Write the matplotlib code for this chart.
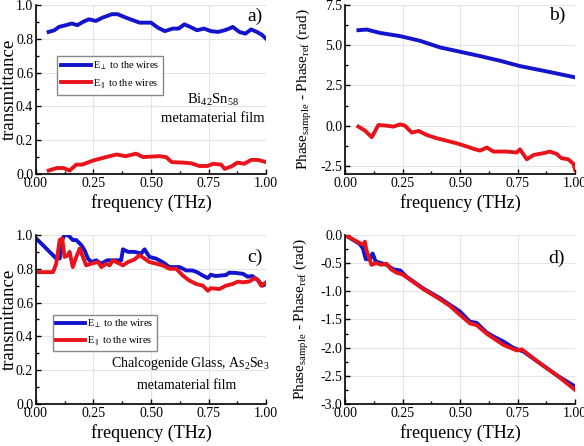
import matplotlib.pyplot as plt
from matplotlib.ticker import AutoMinorLocator

plt.rcParams['font.family'] = ['Liberation Serif', 'DejaVu Serif']
plt.rcParams['mathtext.fontset'] = 'custom'
plt.rcParams['mathtext.rm'] = 'Liberation Serif'
plt.rcParams['mathtext.it'] = 'Liberation Serif'

BLUE = '#1414cc'
RED = '#e8141c'

# a) Bi42Sn58 transmittance
fa_perp = [0.055, 0.08, 0.10, 0.13, 0.155, 0.18, 0.205, 0.23, 0.26, 0.29, 0.33, 0.355, 0.39, 0.42, 0.45,
           0.50, 0.53, 0.56, 0.595, 0.62, 0.645, 0.67, 0.70, 0.73, 0.76, 0.79, 0.82, 0.84, 0.855, 0.884,
           0.91, 0.935, 0.96, 0.98, 1.0]
ta_perp = [0.84, 0.85, 0.87, 0.88, 0.89, 0.88, 0.90, 0.915, 0.905, 0.925, 0.945, 0.945, 0.925, 0.91, 0.895,
           0.895, 0.865, 0.845, 0.86, 0.86, 0.885, 0.87, 0.85, 0.86, 0.845, 0.84, 0.85, 0.86, 0.87, 0.84,
           0.83, 0.855, 0.84, 0.825, 0.80]
fa_par = [0.055, 0.09, 0.12, 0.146, 0.175, 0.20, 0.25, 0.305, 0.35, 0.39, 0.435, 0.465, 0.535, 0.565,
          0.59, 0.64, 0.675, 0.71, 0.745, 0.77, 0.805, 0.82, 0.85, 0.875, 0.905, 0.935, 0.965, 1.0]
ta_par = [0.02, 0.035, 0.035, 0.02, 0.055, 0.055, 0.08, 0.10, 0.115, 0.105, 0.12, 0.10, 0.105, 0.10,
          0.07, 0.067, 0.063, 0.047, 0.047, 0.06, 0.055, 0.03, 0.045, 0.067, 0.06, 0.083, 0.083, 0.07]

# b) Bi42Sn58 phase
fb_perp = [0.058, 0.094, 0.152, 0.24, 0.326, 0.413, 0.50, 0.587, 0.674, 0.76, 0.848, 0.92, 1.0]
pb_perp = [5.93, 5.97, 5.76, 5.56, 5.27, 4.86, 4.59, 4.32, 4.03, 3.70, 3.45, 3.24, 3.0]
fb_par = [0.058, 0.087, 0.116, 0.145, 0.18, 0.21, 0.24, 0.26, 0.29, 0.32, 0.355, 0.40, 0.44, 0.486,
          0.53, 0.565, 0.587, 0.616, 0.645, 0.703, 0.746, 0.76, 0.79, 0.82, 0.862, 0.89, 0.92, 0.94,
          0.97, 0.993, 1.0]
pb_par = [-0.06, -0.31, -0.72, 0.04, 0.0, -0.06, 0.08, 0.0, -0.43, -0.33, -0.58, -0.79, -0.93, -1.1,
          -1.3, -1.47, -1.55, -1.36, -1.61, -1.61, -1.67, -1.47, -2.09, -1.82, -1.71, -1.61, -1.76, -2.02,
          -2.09, -2.38, -2.75]

# c) Chalcogenide glass transmittance
fc_perp = [0.0, 0.03, 0.074, 0.088, 0.095, 0.103, 0.114, 0.124, 0.139, 0.146, 0.16, 0.175, 0.197, 0.211,
           0.226, 0.24, 0.262, 0.284, 0.31, 0.342, 0.37, 0.378, 0.40, 0.428, 0.457, 0.472, 0.493, 0.522,
           0.55, 0.58, 0.624, 0.653, 0.68, 0.70, 0.725, 0.747, 0.76, 0.78, 0.826, 0.84, 0.87, 0.90, 0.92,
           0.94, 0.964, 0.985, 1.0]
tc_perp = [0.98, 0.94, 0.88, 0.86, 0.88, 0.86, 0.97, 1.0, 1.0, 0.99, 0.97, 0.97, 0.94, 0.91,
           0.86, 0.84, 0.85, 0.83, 0.85, 0.85, 0.85, 0.915, 0.90, 0.90, 0.89, 0.915, 0.87, 0.86,
           0.84, 0.81, 0.81, 0.79, 0.79, 0.78, 0.76, 0.745, 0.765, 0.757, 0.763, 0.777, 0.775, 0.77, 0.753,
           0.757, 0.733, 0.70, 0.71]
fc_par = [0.0, 0.074, 0.088, 0.103, 0.114, 0.124, 0.139, 0.146, 0.16, 0.175, 0.19, 0.204, 0.218, 0.24,
          0.27, 0.284, 0.305, 0.32, 0.334, 0.356, 0.378, 0.40, 0.428, 0.45, 0.472, 0.493, 0.522, 0.55,
          0.58, 0.61, 0.638, 0.667, 0.696, 0.725, 0.747, 0.76, 0.797, 0.826, 0.855, 0.877, 0.90, 0.928,
          0.95, 0.964, 0.978, 1.0]
tc_par = [0.78, 0.78, 0.83, 0.97, 0.98, 0.87, 0.88, 0.90, 0.81, 0.87, 0.92, 0.87, 0.82, 0.83,
          0.84, 0.81, 0.83, 0.82, 0.85, 0.835, 0.82, 0.84, 0.855, 0.88, 0.86, 0.84, 0.83, 0.82,
          0.80, 0.80, 0.76, 0.73, 0.71, 0.70, 0.67, 0.685, 0.68, 0.70, 0.71, 0.724, 0.72, 0.725,
          0.745, 0.735, 0.70, 0.72]

# d) Chalcogenide glass phase
fd_perp = [0.0, 0.064, 0.078, 0.09, 0.107, 0.12, 0.133, 0.158, 0.18, 0.21, 0.24, 0.267, 0.34, 0.412,
           0.456, 0.50, 0.543, 0.572, 0.615, 0.644, 0.688, 0.73, 0.775, 0.848, 0.92, 1.0]
pd_perp = [0.0, -0.16, -0.24, -0.43, -0.43, -0.33, -0.47, -0.50, -0.53, -0.61, -0.63, -0.74, -0.95, -1.12,
           -1.24, -1.36, -1.54, -1.56, -1.73, -1.80, -1.89, -2.0, -2.07, -2.28, -2.49, -2.69]
fd_par = [0.0, 0.071, 0.081, 0.086, 0.093, 0.115, 0.136, 0.158, 0.18, 0.20, 0.224, 0.25, 0.34, 0.412,
          0.456, 0.50, 0.543, 0.572, 0.615, 0.644, 0.688, 0.746, 0.768, 0.79, 0.848, 0.92, 1.0]
pd_par = [0.0, -0.16, -0.17, -0.12, -0.27, -0.53, -0.50, -0.53, -0.51, -0.61, -0.67, -0.70, -0.96, -1.14,
          -1.26, -1.42, -1.57, -1.60, -1.75, -1.83, -1.95, -2.05, -2.03, -2.1, -2.28, -2.49, -2.75]

label_perp = r'E$_{\perp}$ to the wires'
label_par = r'E$_{\parallel}$ to the wires'
phase_label = r'Phase$_{\mathrm{sample}}$ - Phase$_{\mathrm{ref}}$ (rad)'

fig = plt.figure(figsize=(5.84, 4.46), dpi=100)
ax_a = fig.add_axes([0.0616, 0.610, 0.394, 0.379])
ax_b = fig.add_axes([0.5908, 0.610, 0.394, 0.379])
ax_c = fig.add_axes([0.0616, 0.0942, 0.394, 0.379])
ax_d = fig.add_axes([0.5908, 0.0942, 0.394, 0.379])


def style(ax, ylim, yticks, letter, lx, ly):
    ax.set_xlim(0, 1)
    ax.set_ylim(*ylim)
    ax.set_xticks([0, 0.25, 0.5, 0.75, 1.0])
    ax.set_xticklabels(['0.00', '0.25', '0.50', '0.75', '1.00'])
    ax.set_yticks(yticks)
    ax.xaxis.set_minor_locator(AutoMinorLocator(2))
    ax.yaxis.set_minor_locator(AutoMinorLocator(2))
    ax.tick_params(which='both', direction='in', labelsize=10, width=1.0)
    ax.tick_params(which='major', length=3.5, pad=2)
    ax.tick_params(which='minor', length=2)
    ax.spines['top'].set_visible(False)
    ax.spines['right'].set_visible(False)
    ax.spines['left'].set_linewidth(1.2)
    ax.spines['bottom'].set_linewidth(1.2)
    ax.grid(True, color='#e4e4e4', linewidth=0.8)
    ax.set_axisbelow(True)
    ax.set_xlabel('frequency (THz)', fontsize=13, labelpad=3)
    ax.text(lx, ly, letter, transform=ax.transAxes, ha='right', va='center', fontsize=14)


ax_a.plot(fa_perp, ta_perp, color=BLUE, lw=2.8, label=label_perp)
ax_a.plot(fa_par, ta_par, color=RED, lw=2.8, label=label_par)
style(ax_a, (0, 1.0), [0, 0.2, 0.4, 0.6, 0.8, 1.0], 'a)', 0.987, 0.935)
ax_a.set_yticklabels(['0.0', '0.2', '0.4', '0.6', '0.8', '1.0'])
ax_a.set_ylabel('transmittance', fontsize=13.5)
ax_a.yaxis.set_label_coords(-0.08, 0.5)
ax_a.legend(loc='upper left', bbox_to_anchor=(0.07, 0.73), fontsize=7.5, fancybox=False,
            edgecolor='#888888', framealpha=1, handlelength=2.8, borderpad=0.4, labelspacing=0.45,
            handletextpad=0.2)
ax_a.text(0.77, 0.44, r'Bi$_{42}$Sn$_{58}$', transform=ax_a.transAxes, ha='center', va='center',
          fontsize=10.5)
ax_a.text(0.77, 0.33, 'metamaterial film', transform=ax_a.transAxes, ha='center', va='center',
          fontsize=10.5)

ax_b.plot(fb_perp, pb_perp, color=BLUE, lw=2.8)
ax_b.plot(fb_par, pb_par, color=RED, lw=2.8)
style(ax_b, (-3.0, 7.5), [-2.5, 0, 2.5, 5.0, 7.5], 'b)', 0.957, 0.94)
ax_b.set_yticklabels(['-2.5', '0.0', '2.5', '5.0', '7.5'])
ax_b.set_ylabel(phase_label, fontsize=11)
ax_b.yaxis.set_label_coords(-0.135, 0.5)

ax_c.plot(fc_perp, tc_perp, color=BLUE, lw=2.8, label=label_perp)
ax_c.plot(fc_par, tc_par, color=RED, lw=2.8, label=label_par)
style(ax_c, (0, 1.0), [0, 0.2, 0.4, 0.6, 0.8, 1.0], 'c)', 0.987, 0.87)
ax_c.set_yticklabels(['0.0', '0.2', '0.4', '0.6', '0.8', '1.0'])
ax_c.set_ylabel('transmittance', fontsize=13.5)
ax_c.yaxis.set_label_coords(-0.08, 0.5)
ax_c.legend(loc='upper left', bbox_to_anchor=(0.05, 0.56), fontsize=7.5, fancybox=False,
            edgecolor='#888888', framealpha=1, handlelength=2.8, borderpad=0.3, labelspacing=0.45,
            handletextpad=0.2)
ax_c.text(0.67, 0.24, r'Chalcogenide Glass, As$_2$Se$_3$', transform=ax_c.transAxes, ha='center',
          va='center', fontsize=10)
ax_c.text(0.655, 0.11, 'metamaterial film', transform=ax_c.transAxes, ha='center', va='center',
          fontsize=10)

ax_d.plot(fd_perp, pd_perp, color=BLUE, lw=2.8)
ax_d.plot(fd_par, pd_par, color=RED, lw=2.8)
style(ax_d, (-3.0, 0.0), [-3.0, -2.5, -2.0, -1.5, -1.0, -0.5, 0.0], 'd)', 0.957, 0.86)
ax_d.set_yticklabels(['-3.0', '-2.5', '-2.0', '-1.5', '-1.0', '-0.5', '0.0'])
ax_d.set_ylabel(phase_label, fontsize=11)
ax_d.yaxis.set_label_coords(-0.15, 0.5)

fig.savefig('out.png', dpi=100)
